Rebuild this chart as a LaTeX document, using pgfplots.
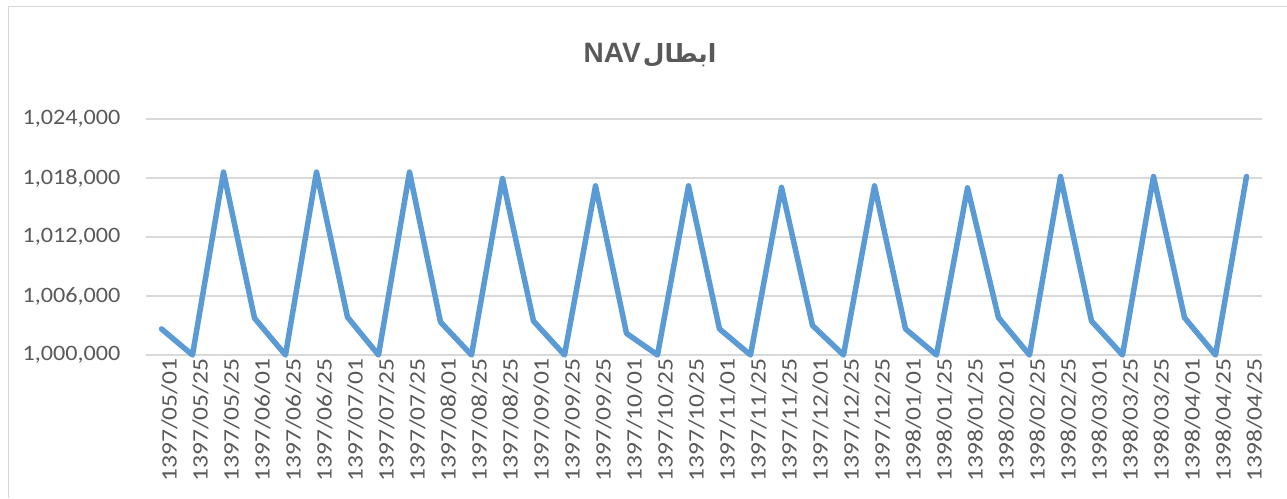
\documentclass[border=0pt]{standalone}
\usepackage{graphicx}
\usepackage{pgfplots}
\pgfplotsset{compat=1.18}
\usepackage{pgfplotstable}
\usepackage{fontspec}
\setmainfont{Carlito}
\newfontfamily\arabicfont[Script=Arabic]{DejaVu Sans}
\newfontfamily\titlefont{Liberation Sans}
\TeXXeTstate=1
\definecolor{linec}{HTML}{5B9BD5}
\definecolor{gridc}{HTML}{D9D9D9}
\definecolor{textc}{HTML}{595959}
\newcommand{\W}[1]{\scalebox{1.16}[1]{#1}}
\newcommand{\Y}[1]{\scalebox{1.1}[1]{#1}}
\pgfplotstableread{
x y
0 1002650
1 1000000
2 1018600
3 1003750
4 1000000
5 1018600
6 1003850
7 1000000
8 1018600
9 1003350
10 1000000
11 1017950
12 1003450
13 1000000
14 1017200
15 1002200
16 1000000
17 1017200
18 1002650
19 1000000
20 1017050
21 1003000
22 1000000
23 1017200
24 1002650
25 1000000
26 1017000
27 1003800
28 1000000
29 1018150
30 1003450
31 1000000
32 1018150
33 1003800
34 1000000
35 1018150
}\navdata
\begin{document}
\begin{tikzpicture}[x=1pt,y=1pt]
\path[use as bounding box] (0,0) rectangle (1287,498);
\draw[gridc, line width=1.5pt] (8.5,0) -- (8.5,491.5) -- (1287,491.5);
\node[text=textc, font=\bfseries] at (650,443) {\beginR{\arabicfont\fontsize{25}{29}\selectfont ابطال} {\titlefont\fontsize{28}{32}\selectfont NAV}\endR};
\begin{axis}[
  at={(146pt,143pt)}, anchor=south west,
  scale only axis, width=1116pt, height=236pt,
  xmin=-0.5, xmax=35.5,
  ymin=1000000, ymax=1024000,
  scaled y ticks=false,
  ytick={1000000,1006000,1012000,1018000,1024000},
  yticklabels={\Y{1,000,000},\Y{1,006,000},\Y{1,012,000},\Y{1,018,000},\Y{1,024,000}},
  yticklabel style={font=\fontsize{22}{26}\selectfont, text=textc, xshift=-22pt},
  xtick=data,
  xticklabels={\W{1397/05/01},\W{1397/05/25},\W{1397/05/25},\W{1397/06/01},\W{1397/06/25},\W{1397/06/25},\W{1397/07/01},\W{1397/07/25},\W{1397/07/25},\W{1397/08/01},\W{1397/08/25},\W{1397/08/25},\W{1397/09/01},\W{1397/09/25},\W{1397/09/25},\W{1397/10/01},\W{1397/10/25},\W{1397/10/25},\W{1397/11/01},\W{1397/11/25},\W{1397/11/25},\W{1397/12/01},\W{1397/12/25},\W{1397/12/25},\W{1398/01/01},\W{1398/01/25},\W{1398/01/25},\W{1398/02/01},\W{1398/02/25},\W{1398/02/25},\W{1398/03/01},\W{1398/03/25},\W{1398/03/25},\W{1398/04/01},\W{1398/04/25},\W{1398/04/25}},
  xticklabel style={rotate=90, anchor=east, font=\fontsize{22}{26}\selectfont, text=textc, yshift=-8pt},
  axis line style={draw=none},
  tick style={draw=none},
  ymajorgrids,
  grid style={gridc, line width=1.5pt},
  major tick length=0pt,
  clip=false,
]
\addplot[linec, line width=5.5pt, line join=round, line cap=round, mark=none] table[x=x,y=y] {\navdata};
\end{axis}
\end{tikzpicture}
\end{document}
